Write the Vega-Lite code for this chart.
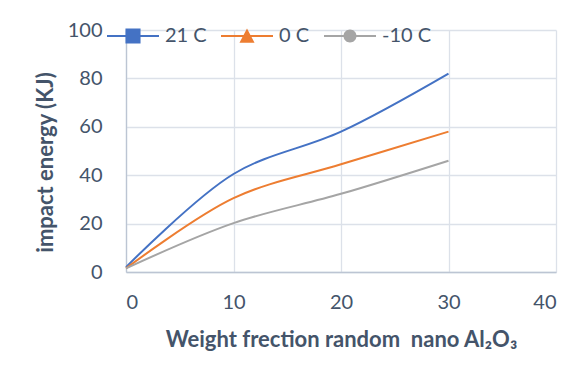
{
  "$schema": "https://vega.github.io/schema/vega-lite/v6.json",
  "width": 430,
  "height": 242,
  "autosize": {"type": "none"},
  "padding": {"left": 126, "top": 30, "right": 23, "bottom": 97},
  "background": "white",
  "data": {
    "values": [
      {"series": "21 C", "x": 0, "y": 2},
      {"series": "21 C", "x": 10, "y": 40.5},
      {"series": "21 C", "x": 20, "y": 58},
      {"series": "21 C", "x": 30, "y": 82},
      {"series": "0 C", "x": 0, "y": 1.5},
      {"series": "0 C", "x": 10, "y": 30.5},
      {"series": "0 C", "x": 20, "y": 44.5},
      {"series": "0 C", "x": 30, "y": 58},
      {"series": "-10 C", "x": 0, "y": 1.5},
      {"series": "-10 C", "x": 10, "y": 20.2},
      {"series": "-10 C", "x": 20, "y": 32.3},
      {"series": "-10 C", "x": 30, "y": 46}
    ]
  },
  "encoding": {
    "x": {
      "field": "x", "type": "quantitative",
      "scale": {"domain": [0, 40], "nice": false},
      "axis": {
        "values": [0, 10, 20, 30, 40],
        "title": "Weight frection random\u00a0 nano Al₂O₃",
        "titlePadding": 17
      }
    },
    "y": {
      "field": "y", "type": "quantitative",
      "scale": {"domain": [0, 100], "nice": false},
      "axis": {
        "values": [0, 20, 40, 60, 80, 100],
        "title": "impact energy (KJ)",
        "titleX": -81,
        "titleY": 132,
        "titleAngle": -90,
        "titleAlign": "center",
        "titleBaseline": "middle"
      }
    },
    "color": {
      "field": "series", "type": "nominal",
      "scale": {"domain": ["21 C", "0 C", "-10 C"], "range": ["#4472C4", "#ED7D31", "#A5A5A5"]},
      "title": null
    }
  },
  "layer": [
    {
      "mark": {"type": "line", "interpolate": "catmull-rom", "strokeWidth": 2}
    },
    {
      "mark": {"type": "point", "filled": true, "opacity": 0, "size": 2704},
      "encoding": {
        "shape": {
          "field": "series", "type": "nominal",
          "scale": {
            "domain": ["21 C", "0 C", "-10 C"],
            "range": [
              "M-1,-0.035H1V0.035H-1Z M-0.29,-0.29H0.29V0.29H-0.29Z",
              "M-1,-0.035H1V0.035H-1Z M0,-0.29L0.29,0.26L-0.29,0.26Z",
              "M-1,-0.035H1V0.035H-1Z M0.25,0A0.25,0.25 0 1,1 -0.25,0A0.25,0.25 0 1,1 0.25,0Z"
            ]
          },
          "title": null
        }
      }
    }
  ],
  "config": {
    "font": "Lato",
    "view": {"stroke": null},
    "axis": {
      "labelFont": "Lato",
      "labelFontSize": 20,
      "labelColor": "#44546A",
      "titleFont": "Lato",
      "titleFontSize": 22,
      "titleFontWeight": "bold",
      "titleColor": "#44546A",
      "gridColor": "#DCE1E9",
      "gridWidth": 1.3,
      "domainColor": "#BCC5D3",
      "domainWidth": 1.3,
      "ticks": false
    },
    "axisX": {"labelPadding": 20},
    "axisY": {"labelPadding": 24},
    "legend": {
      "orient": "none",
      "legendX": -19,
      "legendY": -20,
      "direction": "horizontal",
      "columns": 3,
      "columnPadding": 14,
      "padding": 0,
      "labelFont": "Lato",
      "labelFontSize": 20,
      "labelColor": "#44546A",
      "labelOffset": 6,
      "symbolSize": 2704,
      "symbolOpacity": 1,
      "symbolStrokeWidth": 0
    }
  }
}
